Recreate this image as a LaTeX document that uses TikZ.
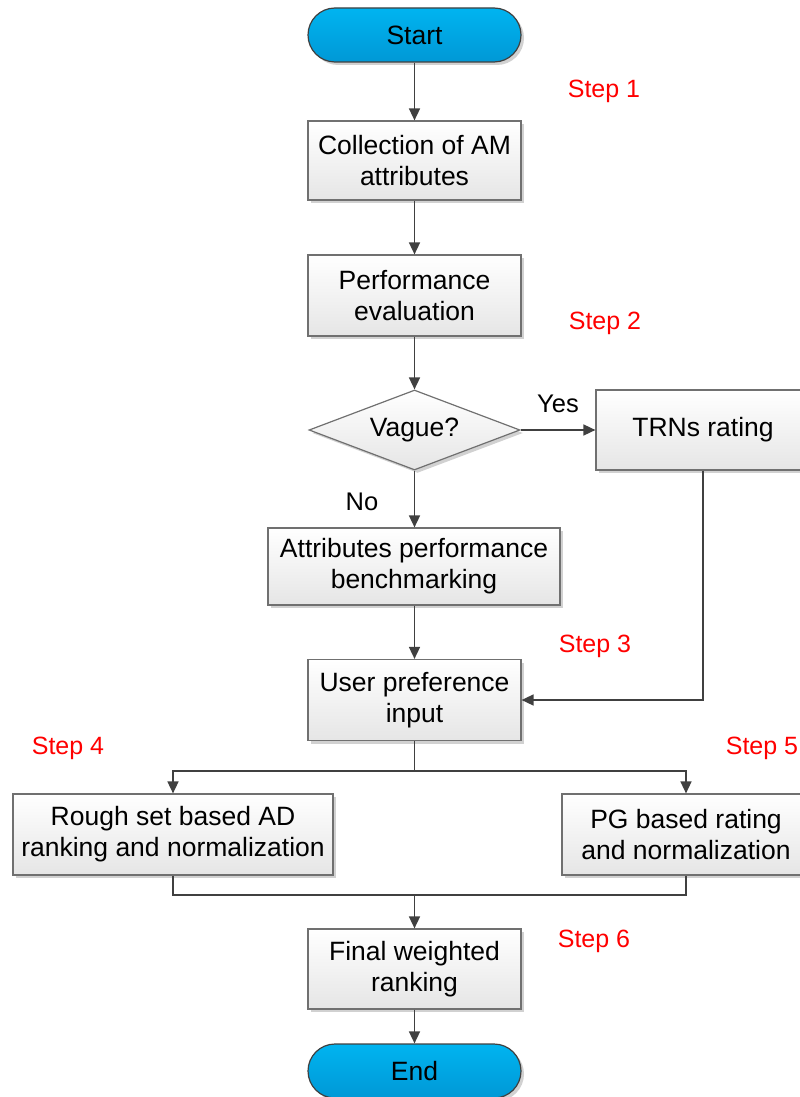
\documentclass[tikz,border=0pt]{standalone}
\usepackage{fontspec}
\setmainfont{Liberation Sans}
\usetikzlibrary{shapes.geometric,shadows,arrows.meta}
\definecolor{lineC}{HTML}{404040}
\definecolor{boxB}{HTML}{707070}
\definecolor{termTop}{HTML}{00B4F0}
\definecolor{termBot}{HTML}{0098D6}
\definecolor{stepRed}{HTML}{FF0000}
\tikzset{
  base/.style={font=\fontsize{26.5}{31}\selectfont, align=center, inner sep=0pt,
    drop shadow={shadow xshift=3pt, shadow yshift=-3pt, fill=black!18, opacity=1}},
  procbox/.style={base, rectangle, draw=boxB, line width=1.2pt, top color=white, bottom color=black!10},
  term/.style={base, rectangle, rounded corners=27pt, draw=lineC, line width=1.2pt,
    top color=termTop, bottom color=termBot, minimum width=213pt, minimum height=54pt},
  decis/.style={base, diamond, aspect=2.64, draw=boxB, line width=1.2pt, top color=white, bottom color=black!10,
    minimum width=211pt, minimum height=80pt},
  arr/.style={draw=lineC, line width=1.6pt, -{Triangle[length=12pt,width=11pt]}},
  ln/.style={draw=lineC, line width=1.6pt},
  steplbl/.style={font=\fontsize{25}{30}\selectfont, text=stepRed, inner sep=0pt},
  lbl/.style={font=\fontsize{25.5}{30}\selectfont, inner sep=0pt}
}
\begin{document}
\begin{tikzpicture}[x=1pt,y=-1pt]
\useasboundingbox (0,0) rectangle (800,1097);
\node[term] (start) at (414.5,35) {Start};
\node[procbox, minimum width=213pt, minimum height=79pt] (coll) at (414.5,160.5) {Collection of AM\\attributes};
\node[procbox, minimum width=213pt, minimum height=81pt] (perf) at (414.5,295.5) {Performance\\evaluation};
\node[decis] (vague) at (414.5,430) {\raisebox{-2pt}{Vague?}};
\node[procbox, minimum width=214pt, minimum height=80pt] (trn) at (703,430) {\raisebox{-2pt}{TRNs rating}};
\node[procbox, minimum width=292pt, minimum height=77pt] (attr) at (414,566.5) {Attributes performance\\benchmarking};
\node[procbox, minimum width=213pt, minimum height=81pt] (user) at (414.5,700) {User preference\\input};
\node[procbox, minimum width=320pt, minimum height=81pt] (rough) at (173,834.5) {Rough set based AD\\ranking and normalization};
\node[procbox, minimum width=248pt, minimum height=81pt] (pg) at (686,834.5) {PG based rating\\and normalization};
\node[procbox, minimum width=213pt, minimum height=80pt] (final) at (414.5,969) {Final weighted\\ranking};
\node[term] (end) at (414.5,1071) {End};

\node[steplbl] (s1) at (604,91) {Step 1};
\node[steplbl] (s2) at (605,323) {Step 2};
\node[steplbl] (s3) at (595,646) {Step 3};
\node[steplbl] (s4) at (68,748) {Step 4};
\node[steplbl] (s5) at (762,748) {Step 5};
\node[steplbl] (s6) at (594,941) {Step 6};
\node[lbl] (yes) at (558,404) {Yes};
\node[lbl] (no) at (362,502) {No};

\coordinate (split) at (414.5,771);
\coordinate (merge) at (414.5,895);

\draw[arr] (start) -- (coll);
\draw[arr] (coll) -- (perf);
\draw[arr] (perf) -- (vague);
\draw[arr] (vague.east) -- (trn.west);
\draw[arr] (vague.south) -- (attr.north -| vague.south);
\draw[arr] (attr.south -| user.north) -- (user.north);
\draw[arr] (trn.south) |- (user.east);
\draw[ln] (user.south) -- (split);
\draw[arr] (split) -| (rough.north);
\draw[arr] (split) -| (pg.north);
\draw[ln] (rough.south) |- (merge);
\draw[ln] (pg.south) |- (merge);
\draw[arr] (merge) -- (final.north);
\draw[arr] (final) -- (end);
\end{tikzpicture}
\end{document}
